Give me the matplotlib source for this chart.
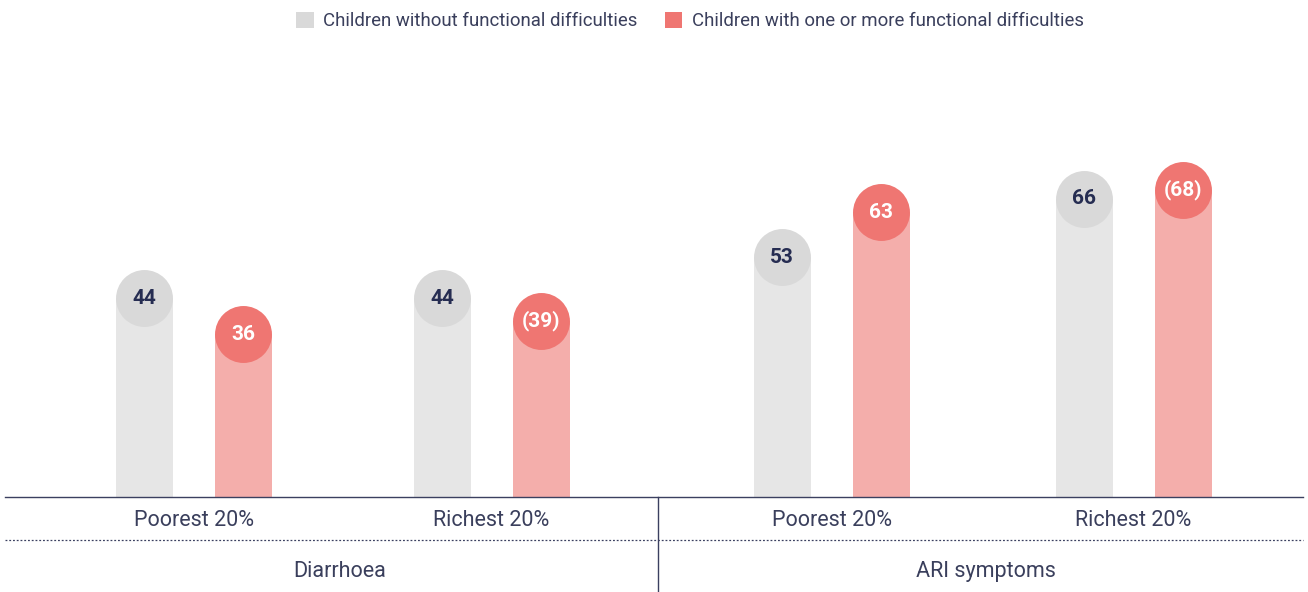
import numpy as np
import matplotlib.pyplot as plt
from matplotlib.patches import Patch

plt.rcParams['font.family'] = ['Roboto', 'DejaVu Sans']

# data
indicators = ['Diarrhoea', 'ARI symptoms']
quintiles = ['Poorest 20%', 'Richest 20%']
series_names = ['Children without functional difficulties',
                'Children with one or more functional difficulties']
without_fd = [44, 44, 53, 66]
with_fd = [36, 39, 63, 68]
with_fd_labels = ['36', '(39)', '63', '(68)']

# colours
bar_cols = ['#e6e6e6', '#f4aeab']
dot_cols = ['#d9d9d9', '#ef7672']
navy = '#262d52'
txt = '#3a3f5c'

W, H = 1308, 592
fig = plt.figure(figsize=(W / 100, H / 100), dpi=100)

base = 497  # pixel row of baseline
px_per_unit = 4.52
left, right = 5, 1303
ax = fig.add_axes([left / W, (H - base) / H, (right - left) / W, base / H])
ax.set_xlim(left, right)
ax.set_ylim(0, base / px_per_unit)
ax.axis('off')

group_x = np.array([193.5, 491.5, 831.5, 1133.5])
off = 49.5
bw = 57

for k, (vals, labs) in enumerate([(without_fd, [str(v) for v in without_fd]),
                                  (with_fd, with_fd_labels)]):
    xs = group_x + (off if k else -off)
    ax.bar(xs, vals, width=bw, color=bar_cols[k], zorder=1)
    ax.scatter(xs, vals, s=41 ** 2, color=dot_cols[k], zorder=2, linewidths=0)
    for x, v, lab in zip(xs, vals, labs):
        ax.text(x, v, lab, ha='center', va='center', fontsize=15, fontweight='bold',
                color=navy if k == 0 else 'white', zorder=3)

# axis furniture in figure pixel coords
def fx(p):
    return p / W

def fy(p):
    return 1 - p / H

fig.add_artist(plt.Line2D([fx(left), fx(right)], [fy(base), fy(base)], color='#3b4060', lw=1))
fig.add_artist(plt.Line2D([fx(left), fx(right)], [fy(540), fy(540)], color='#3b4060', lw=0.9,
                          linestyle=(0, (1.5, 1.5))))
fig.add_artist(plt.Line2D([fx(658), fx(658)], [fy(base), 0], color='#3b4060', lw=1))

for i, gx in enumerate(group_x):
    fig.text(fx(gx), fy(520.5), quintiles[i % 2], ha='center', va='center', fontsize=15.5, color=txt)
for i, name in enumerate(indicators):
    cx = (group_x[2 * i] + group_x[2 * i + 1]) / 2 - 3 + 6 * i
    fig.text(fx(cx), fy(571.5), name, ha='center', va='center', fontsize=15.5, color=txt)

handles = [Patch(facecolor=dot_cols[0]), Patch(facecolor=dot_cols[1])]
fig.legend(handles, series_names, loc='center', bbox_to_anchor=(fx(690), fy(21)), ncol=2,
           frameon=False, handlelength=0.92, handleheight=0.92, handletextpad=0.5,
           columnspacing=1.5, fontsize=13.4, labelcolor=txt)

fig.savefig('out.png', dpi=100)
